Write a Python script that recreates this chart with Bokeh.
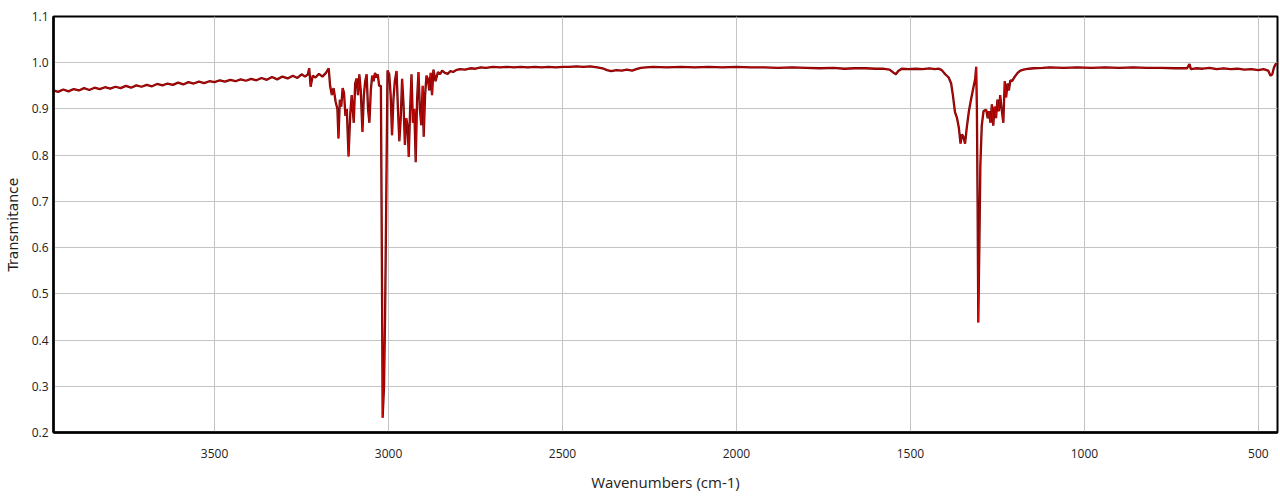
from bokeh.plotting import figure
from bokeh.models import Range1d, FixedTicker, NumeralTickFormatter
from bokeh.embed import file_html
from bokeh.resources import INLINE

wavenumber = [
    3963, 3950, 3935, 3920, 3905, 3890, 3875, 3860, 3845, 3830, 3815, 3800, 3785, 3770, 3755,
    3740, 3725, 3710, 3695, 3680, 3665, 3650, 3635, 3620, 3605, 3590, 3575, 3560, 3545, 3530,
    3515, 3500, 3485, 3470, 3455, 3440, 3425, 3410, 3395, 3380, 3365, 3350, 3335, 3320, 3305,
    3290, 3275, 3262, 3250, 3240, 3232, 3228, 3224, 3218, 3210, 3200, 3190, 3180, 3172, 3168,
    3163, 3158, 3152, 3147, 3144, 3140, 3136, 3132, 3128, 3124, 3120, 3115, 3110, 3106, 3100,
    3096, 3092, 3088, 3084, 3080, 3075, 3071, 3067, 3063, 3059, 3055, 3051, 3047, 3043, 3039,
    3035, 3031, 3027, 3022, 3019, 3017, 3013, 3010, 3006, 3003, 2998, 2994, 2990, 2986, 2982,
    2977, 2973, 2969, 2965, 2961, 2957, 2953, 2949, 2945, 2942, 2938, 2934, 2930, 2926, 2922,
    2918, 2914, 2910, 2906, 2902, 2899, 2895, 2891, 2887, 2883, 2879, 2875, 2871, 2865, 2858,
    2852, 2846, 2838, 2830, 2822, 2814, 2806, 2795, 2780, 2765, 2750, 2735, 2720, 2700, 2680,
    2660, 2640, 2620, 2600, 2580, 2560, 2540, 2520, 2500, 2480, 2460, 2440, 2420, 2400, 2385,
    2372, 2360, 2345, 2330, 2315, 2300, 2288, 2275, 2260, 2240, 2200, 2160, 2120, 2080, 2040,
    2000, 1960, 1920, 1880, 1840, 1800, 1760, 1720, 1690, 1660, 1630, 1600, 1580, 1560, 1548,
    1542, 1535, 1525, 1505, 1485, 1465, 1445, 1430, 1418, 1410, 1400, 1390, 1383, 1378, 1372,
    1366, 1361, 1356, 1352, 1348, 1343, 1338, 1332, 1326, 1322, 1318, 1314, 1311, 1309, 1307,
    1305, 1302, 1299, 1295, 1290, 1286, 1282, 1278, 1274, 1270, 1266, 1262, 1258, 1254, 1250,
    1246, 1242, 1238, 1233, 1229, 1225, 1221, 1217, 1213, 1208, 1200, 1192, 1184, 1175, 1160,
    1145, 1120, 1100, 1060, 1020, 980, 940, 900, 860, 820, 780, 740, 705, 698, 694,
    680, 660, 640, 620, 600, 580, 560, 540, 520, 500, 485, 472, 465, 460, 455,
    450, 446,
]

transmittance = [
    0.940, 0.937, 0.942, 0.938, 0.943, 0.940, 0.945, 0.941, 0.946, 0.943, 0.947, 0.944, 0.948, 0.945, 0.950,
    0.946, 0.951, 0.948, 0.952, 0.949, 0.954, 0.951, 0.955, 0.952, 0.957, 0.953, 0.958, 0.955, 0.959, 0.956,
    0.960, 0.958, 0.962, 0.959, 0.963, 0.960, 0.964, 0.961, 0.965, 0.962, 0.967, 0.963, 0.969, 0.964, 0.970,
    0.966, 0.972, 0.967, 0.975, 0.970, 0.975, 0.988, 0.948, 0.972, 0.968, 0.976, 0.970, 0.978, 0.988, 0.950,
    0.930, 0.945, 0.915, 0.900, 0.836, 0.920, 0.905, 0.945, 0.935, 0.885, 0.900, 0.797, 0.890, 0.930, 0.870,
    0.955, 0.966, 0.930, 0.975, 0.940, 0.850, 0.930, 0.960, 0.975, 0.900, 0.870, 0.940, 0.972, 0.960, 0.978,
    0.968, 0.975, 0.950, 0.950, 0.550, 0.232, 0.300, 0.450, 0.750, 0.983, 0.975, 0.930, 0.843, 0.920, 0.960,
    0.982, 0.900, 0.830, 0.880, 0.965, 0.910, 0.822, 0.880, 0.860, 0.796, 0.900, 0.975, 0.870, 0.900, 0.785,
    0.920, 0.980, 0.900, 0.865, 0.950, 0.840, 0.930, 0.972, 0.965, 0.940, 0.978, 0.930, 0.985, 0.960, 0.980,
    0.975, 0.983, 0.978, 0.976, 0.982, 0.980, 0.984, 0.986, 0.985, 0.988, 0.987, 0.990, 0.989, 0.991, 0.990,
    0.991, 0.990, 0.991, 0.990, 0.991, 0.990, 0.991, 0.990, 0.991, 0.991, 0.992, 0.991, 0.992, 0.990, 0.988,
    0.984, 0.982, 0.984, 0.983, 0.985, 0.983, 0.986, 0.989, 0.990, 0.991, 0.990, 0.991, 0.990, 0.991, 0.990,
    0.991, 0.990, 0.990, 0.989, 0.990, 0.989, 0.988, 0.989, 0.987, 0.988, 0.988, 0.987, 0.987, 0.985, 0.978,
    0.975, 0.982, 0.987, 0.986, 0.987, 0.986, 0.988, 0.986, 0.987, 0.984, 0.975, 0.968, 0.955, 0.930, 0.893,
    0.880, 0.860, 0.825, 0.845, 0.840, 0.825, 0.860, 0.895, 0.920, 0.935, 0.950, 0.965, 0.991, 0.900, 0.700,
    0.438, 0.600, 0.780, 0.864, 0.895, 0.897, 0.898, 0.880, 0.895, 0.870, 0.910, 0.864, 0.905, 0.880, 0.920,
    0.895, 0.930, 0.900, 0.870, 0.960, 0.925, 0.955, 0.940, 0.962, 0.960, 0.970, 0.978, 0.983, 0.985, 0.987,
    0.988, 0.989, 0.990, 0.989, 0.990, 0.989, 0.990, 0.989, 0.990, 0.989, 0.989, 0.988, 0.988, 0.997, 0.986,
    0.988, 0.987, 0.989, 0.986, 0.988, 0.986, 0.987, 0.985, 0.986, 0.984, 0.986, 0.983, 0.972, 0.975, 0.990,
    0.997, 0.998,
]

x_ticks = [3500, 3000, 2500, 2000, 1500, 1000, 500]
y_ticks = [0.2, 0.3, 0.4, 0.5, 0.6, 0.7, 0.8, 0.9, 1.0, 1.1]

p = figure(width=1280, height=499, output_backend="svg", toolbar_location=None,
           x_range=Range1d(3963, 445), y_range=Range1d(0.2, 1.1),
           min_border_left=53, min_border_right=3, min_border_top=16, min_border_bottom=67)

p.line(wavenumber, transmittance, line_color="#7a0000", line_width=2.3)
p.line(wavenumber, transmittance, line_color="#e81010", line_width=0.6)

p.outline_line_color = "black"
p.outline_line_width = 2
p.outline_line_alpha = 1

p.xaxis.ticker = FixedTicker(ticks=x_ticks)
p.yaxis.ticker = FixedTicker(ticks=y_ticks)
p.yaxis.formatter = NumeralTickFormatter(format="0.0")
p.xgrid.ticker = FixedTicker(ticks=x_ticks)
p.ygrid.ticker = FixedTicker(ticks=y_ticks)
p.grid.grid_line_color = "#c4c4c4"
p.grid.grid_line_width = 1
p.grid.grid_line_alpha = 1

for ax in (p.xaxis, p.yaxis):
    ax.axis_line_color = "black"
    ax.axis_line_width = 2.5
    ax.major_tick_out = 0
    ax.major_tick_in = 0
    ax.minor_tick_out = 0
    ax.minor_tick_in = 0
    ax.major_label_text_font = "Open Sans"
    ax.major_label_text_font_size = "12px"
    ax.major_label_text_color = "#222222"
    ax.axis_label_text_font = "Open Sans"
    ax.axis_label_text_font_size = "15px"
    ax.axis_label_text_font_style = "normal"
    ax.axis_label_text_color = "#222222"

p.xaxis.axis_label = "Wavenumbers (cm-1)"
p.yaxis.axis_label = "Transmitance"
p.xaxis.major_label_standoff = 16
p.yaxis.major_label_standoff = 5
p.xaxis.axis_label_standoff = 11
p.yaxis.axis_label_standoff = 8
p.yaxis.axis_label_text_font = "DejaVu Sans"
p.yaxis.axis_label_text_font_size = "14px"

open("out.html", "w").write(file_html(p, INLINE))
